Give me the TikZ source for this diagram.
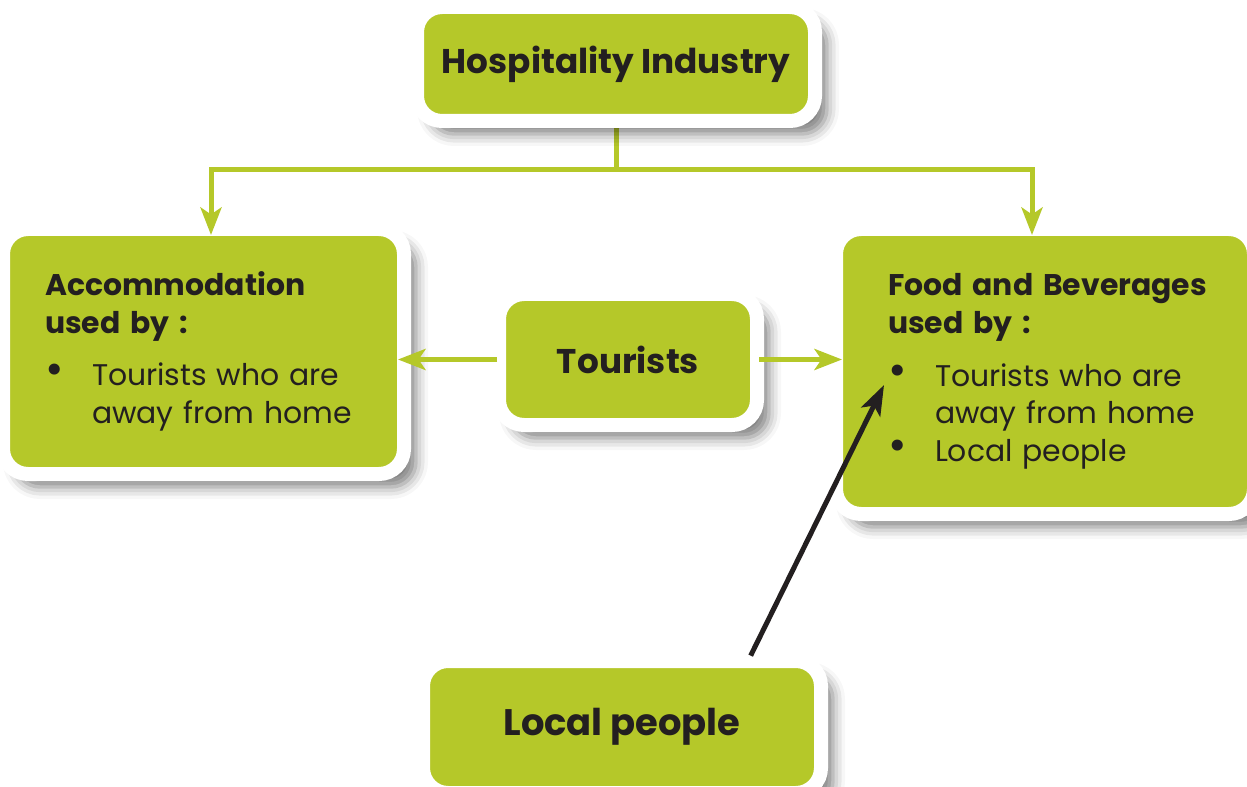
\documentclass[tikz,border=0pt]{standalone}
\usepackage{fontspec}
\setmainfont{Poppins}
\usetikzlibrary{arrows.meta,positioning,shadows.blur,backgrounds}
\definecolor{leaf}{RGB}{181,200,41}
\definecolor{ink}{RGB}{35,31,32}
\tikzstyle{block}=[rectangle, rounded corners=0.5cm, fill=leaf, draw=white, line width=0.28cm, outer sep=0pt, text=ink,
  blur shadow={shadow xshift=0.24cm, shadow yshift=-0.26cm, shadow blur radius=0.24cm, shadow opacity=50}]
\tikzstyle{title}=[block, font=\fontsize{19.5}{23}\selectfont\bfseries]
\tikzstyle{list}=[block, align=left, font=\fontsize{17}{21.5}\selectfont]
\tikzstyle{flow}=[draw=leaf, line width=0.1cm, shorten >=-0.12cm, -{Stealth[length=0.55cm,width=0.42cm,inset=0.14cm]}]
\tikzstyle{pointer}=[draw=ink, line width=0.1cm, shorten <=0.12cm, -{Stealth[length=0.6cm,width=0.42cm,inset=0.14cm]}]
\newcommand{\bul}[1]{\makebox[0.94cm][l]{\raisebox{0.02cm}{\scalebox{1.5}{\textbullet}}}#1}
\newcommand{\cont}[1]{\hspace*{0.94cm}#1}

\begin{document}
\begin{tikzpicture}
\useasboundingbox (0,0) rectangle (24.94,-15.74);
% boxes
\node [title, minimum width=7.96cm, minimum height=2.28cm] (hosp) at (12.32,-1.28) {Hospitality Industry};
\node [list, text width=6.34cm, inner xsep=0.84cm, minimum height=4.9cm] (accom) at (4.07,-7.03)
  {\textbf{Accommodation}\\\textbf{used by :}\\[0.3cm]\bul{Tourists who are}\\\cont{away from home}};
\node [title, minimum width=5.16cm, minimum height=2.62cm] (tour) at (12.56,-7.19) {Tourists};
\node [list, text width=6.28cm, inner xsep=1.04cm, minimum height=5.7cm] (food) at (20.9,-7.43)
  {\mbox{\textbf{Food and Beverages}}\\\textbf{used by :}\\[0.3cm]\bul{Tourists who are}\\\cont{away from home}\\\bul{Local people}};
\node [title, minimum width=7.96cm, minimum height=2.64cm, font=\fontsize{21}{25}\selectfont\bfseries] (local) at (12.44,-14.54) {Local people};
\coordinate (split) at (12.32,-3.4);
\coordinate (mark) at (17.68,-7.7);
% connectors
\begin{scope}[on background layer]
  \draw [draw=leaf, line width=0.1cm] (hosp.south) -- (split);
\end{scope}
\draw [flow] (split) -| ([xshift=0.15cm]accom.north);
\draw [flow] (split) -| ([xshift=-0.26cm]food.north);
\draw [flow] ([xshift=-0.04cm]tour.west) -- (accom.east |- tour.west);
\draw [flow] ([xshift=0.04cm]tour.east) -- (food.west |- tour.east);
\draw [pointer] ([xshift=2.52cm]local.north) -- (mark);
\end{tikzpicture}
\end{document}
